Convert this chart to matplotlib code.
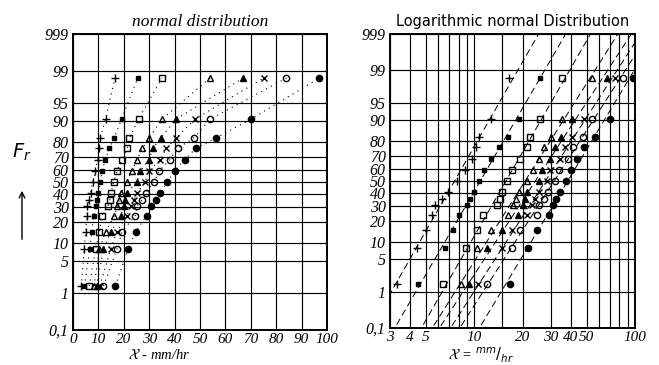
import math
import numpy as np
import matplotlib
matplotlib.use('Agg')
import matplotlib.pyplot as plt
from matplotlib.ticker import FixedLocator, FixedFormatter, NullLocator, NullFormatter

# cumulative frequency levels (percent), shared by every series
fr = [1.5, 8, 15, 24, 31, 35, 41, 50, 59, 68, 76, 82, 90.5, 98.5]

# rainfall intensity x (mm/hr) of each series at the levels above
plus_x = [3.3, 4.4, 5.0, 5.5, 5.7, 6.3, 6.9, 7.8, 8.8, 9.7, 10.3, 10.7, 12.8, 16.5]
fsq_x = [4.5, 6.6, 7.4, 8.1, 9.0, 9.4, 10.0, 10.7, 11.5, 12.7, 14.3, 16.2, 19.1, 25.5]
osq_x = [6.4, 8.9, 10.4, 11.3, 13.8, 14.5, 15.0, 16.0, 17.3, 19.3, 21.3, 22.2, 25.8, 35.0]
otri_x = [8.3, 10.4, 12.8, 16.3, 17.5, 18.2, 18.9, 21.2, 23.1, 25.2, 27.3, 30.0, 35.0, 54.0]
ftri_x = [9.3, 12.0, 14.9, 18.8, 20.1, 20.6, 21.2, 25.2, 26.5, 29.8, 31.6, 34.5, 40.5, 67.0]
cross_x = [10.6, 14.8, 17.3, 21.2, 22.8, 24.0, 25.3, 28.4, 29.8, 34.4, 36.8, 40.5, 48.0, 75.0]
ocirc_x = [12.0, 17.3, 19.3, 24.5, 25.2, 27.0, 28.6, 32.0, 33.9, 38.2, 41.2, 47.5, 54.0, 84.0]
fcirc_x = [16.7, 21.6, 24.7, 29.0, 30.9, 32.5, 34.4, 37.0, 40.0, 43.9, 48.5, 56.2, 70.0, 97.0]

series = [
    (plus_x, '+', 'black', 5.5),
    (fsq_x, 's', 'black', 3.5),
    (osq_x, 's', 'none', 3.8),
    (otri_x, '^', 'none', 4.5),
    (ftri_x, '^', 'black', 4.2),
    (cross_x, 'x', 'black', 4.5),
    (ocirc_x, 'o', 'none', 4.5),
    (fcirc_x, 'o', 'black', 4.5),
]

y_ticks = [0.1, 1, 5, 10, 20, 30, 40, 50, 60, 70, 80, 90, 95, 99, 99.9]
y_labels = ['0,1', '1', '5', '10', '20', '30', '40', '50', '60', '70', '80', '90', '95', '99', '999']

_erf = np.vectorize(math.erf, otypes=[float])


def pct_to_z(p):
    # normal probability paper: percent -> standard normal quantile
    p = np.clip(np.asarray(p, dtype=float) / 100.0, 1e-7, 1 - 1e-7)
    z = np.zeros_like(p)
    for _ in range(40):
        cdf = 0.5 * (1.0 + _erf(z / math.sqrt(2.0)))
        pdf = np.exp(-0.5 * z * z) / math.sqrt(2.0 * math.pi)
        z = z - (cdf - p) / pdf
    return z


def z_to_pct(z):
    z = np.asarray(z, dtype=float)
    return 100.0 * 0.5 * (1.0 + _erf(z / math.sqrt(2.0)))


hand = dict(family='Liberation Serif', style='italic')

fig = plt.figure(figsize=(6.59, 3.65), dpi=100)
ax1 = fig.add_axes([73 / 659, 35 / 365, 254 / 659, 296 / 365])
ax2 = fig.add_axes([390 / 659, 37 / 365, 245 / 659, 294 / 365])

for ax in (ax1, ax2):
    ax.set_yscale('function', functions=(pct_to_z, z_to_pct))
    ax.set_ylim(0.1, 99.9)
    ax.yaxis.set_major_locator(FixedLocator(y_ticks))
    ax.yaxis.set_major_formatter(FixedFormatter(y_labels))
    ax.yaxis.set_minor_locator(NullLocator())
    ax.tick_params(axis='y', length=0, pad=3)
    ax.tick_params(axis='x', which='both', length=0, pad=2)
    for lab in ax.get_yticklabels():
        lab.set(fontsize=11.5, **hand)
    for sp in ax.spines.values():
        sp.set_linewidth(1.4)
    ax.grid(True, which='both', color='black', linewidth=0.85)
    ax.set_axisbelow(True)

# normal paper, linear intensity axis
ax1.set_xlim(0, 100)
ax1.set_xticks(range(0, 101, 10))
ax1.set_xticklabels([str(v) for v in range(0, 101, 10)], fontsize=11, **hand)
for xs, m, fc, ms in series:
    ax1.plot(xs, fr, color='black', linestyle=(0, (1, 4)), linewidth=0.8)
    ax1.plot(xs, fr, linestyle='none', marker=m, markersize=ms,
             markerfacecolor=fc, markeredgecolor='black', markeredgewidth=1.0)
ax1.set_title('normal distribution', fontsize=12.5, pad=6, **hand)
ax1.set_xlabel(r'$\mathcal{X}$ - mm/hr', fontsize=10.5, va='center', **hand)
ax1.xaxis.set_label_coords(0.34, -0.083)

# log-normal paper, log intensity axis with fitted straight lines
ax2.set_xscale('log')
ax2.set_xlim(3, 100)
ax2.xaxis.set_major_locator(FixedLocator([3, 4, 5, 10, 20, 30, 40, 50, 100]))
ax2.xaxis.set_major_formatter(FixedFormatter(['3', '4', '5', '10', '20', '30', '40', '50', '100']))
ax2.xaxis.set_minor_locator(FixedLocator([6, 7, 8, 9, 15, 60, 70, 80, 90]))
ax2.xaxis.set_minor_formatter(NullFormatter())
for lab in ax2.get_xticklabels():
    lab.set(fontsize=11, **hand)
z_fr = pct_to_z(fr)
z_end = np.array([-3.8, 3.8])
for xs, m, fc, ms in series:
    a, b = np.polyfit(z_fr, np.log10(xs), 1)
    ax2.plot(10 ** (a * z_end + b), z_to_pct(z_end), color='black',
             linestyle=(0, (7, 4)), linewidth=0.7)
    ax2.plot(xs, fr, linestyle='none', marker=m, markersize=ms,
             markerfacecolor=fc, markeredgecolor='black', markeredgewidth=1.0)
ax2.set_title('Logarithmic normal Distribution', fontsize=10.5, pad=6,
              family='DejaVu Sans')
ax2.set_xlabel(r'$\mathcal{X}$ = $^{mm}/_{hr}$', fontsize=10.5, va='center', **hand)
ax2.xaxis.set_label_coords(0.37, -0.092)

# F_r label with arrow
fig.text(22 / 659, 1 - 152 / 365, r'$F_r$', fontsize=14, ha='center', va='center')
fig.add_artist(matplotlib.patches.FancyArrowPatch(
    (22 / 659, 1 - 242 / 365), (22 / 659, 1 - 188 / 365),
    transform=fig.transFigure, arrowstyle='->', mutation_scale=10,
    color='black', linewidth=1))

fig.savefig('out.png', dpi=100, facecolor='white')
